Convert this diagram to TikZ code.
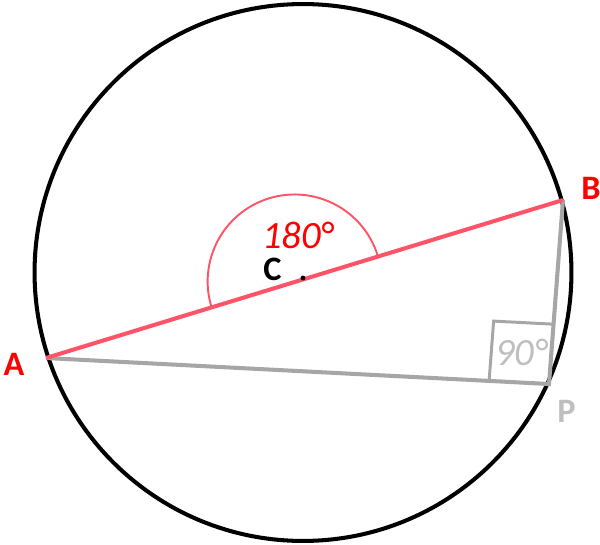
\documentclass[tikz,border=0pt]{standalone}
\usepackage{fontspec}
\setmainfont{Carlito}
\usetikzlibrary{calc, positioning}

\definecolor{chordred}{HTML}{FF5468}
\definecolor{sidegray}{HTML}{A6A6A6}
\definecolor{textgray}{HTML}{BFBFBF}

\begin{document}
\begin{tikzpicture}[x=0.02cm,y=-0.02cm,
                circ/.style={draw=black,line width=2.3pt},
                chord/.style={draw=chordred,line width=2.3pt},
                side/.style={draw=sidegray,line width=2.3pt},
                pt label/.style={font=\fontsize{19.5}{22}\selectfont\bfseries,inner sep=0pt},
                deg label/.style={font=\fontsize{22}{24}\selectfont\itshape,inner sep=0pt}]

        \useasboundingbox (0,0) rectangle (600,545);

        % points
        \coordinate (O) at (303,272.5);
        \coordinate (A) at (46,358);
        \coordinate (B) at (563,200);
        \coordinate (P) at (549,384);
        \coordinate (C) at (303,278);
        \coordinate (Ac) at (294.5,281);

        \draw[circ] (O) circle[radius=5.37cm];

        % triangle sides
        \draw[side] (A) -- (P) -- (B);
        \coordinate (Pa) at ($(P)!1.2cm!(A)$);
        \coordinate (Pb) at ($(P)!1.2cm!(B)$);
        \draw[draw=sidegray,line width=1.7pt] (Pa) -- ($(Pa)+(Pb)-(P)$) -- (Pb);

        % diameter
        \draw[chord] (A) -- (B);
        \draw[draw=chordred,line width=1.1pt] ($(Ac)!1.74cm!(B)$)
                arc[start angle=17.1,end angle=197.1,radius=1.74cm];
        \fill (C) circle[radius=1.4pt];

        \node[pt label,text=red] (a) at (14,364) {A};
        \node[pt label,text=red] (b) at (591,188) {B};
        \node[pt label,text=textgray] (p) at (566.5,411.5) {P};
        \node[pt label] (c) at (272.5,269.5) {C};
        \node[deg label,text=red] (d180) at (298,235) {180°};
        \node[deg label,text=textgray] (d90) at (521.5,352.5) {90°};

\end{tikzpicture}
\end{document}
